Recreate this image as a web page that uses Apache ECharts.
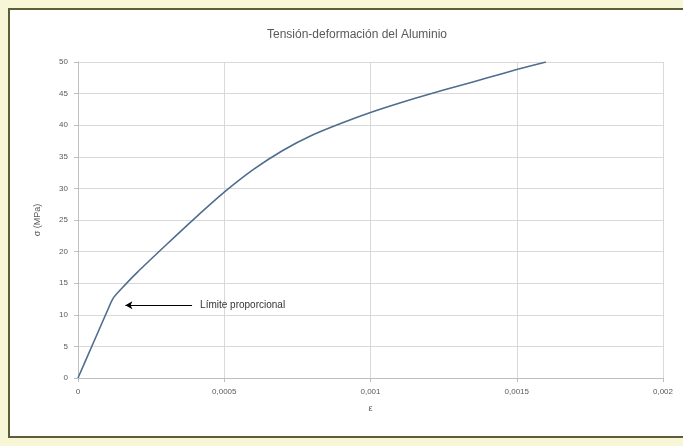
<!DOCTYPE html>
<html>
<head>
<meta charset="utf-8">
<script src="https://cdn.jsdelivr.net/npm/echarts@6/dist/echarts.min.js"></script>
<style>
  html, body { margin: 0; padding: 0; background: #f7f7d8; }
  #frame { position: absolute; left: 8px; top: 8px; width: 690px; height: 430px; border: 2px solid #5d5d3a; background: #ffffff; box-sizing: border-box; }
  #main { position: absolute; left: 0; top: 0; width: 683px; height: 446px; }
</style>
</head>
<body>
<div id="frame"></div>
<div id="main"></div>
<script>
const titleText = 'Tensión-deformación del Aluminio';
const xAxisName = 'ε';
const yAxisName = 'σ (MPa)';
const strain = [0, 0.00005, 0.0001, 0.00012, 0.00015, 0.0002, 0.0003, 0.0004, 0.0005, 0.0006, 0.0007, 0.0008, 0.0009, 0.001, 0.0011, 0.0012, 0.0013, 0.0014, 0.0015, 0.0016];
const stress = [0, 5.3, 10.6, 12.6, 14.2, 16.6, 21.0, 25.3, 29.4, 33.0, 36.0, 38.4, 40.3, 42.0, 43.5, 44.9, 46.2, 47.5, 48.8, 50.0];
const xTickLabels = {0: '0', 0.0005: '0,0005', 0.001: '0,001', 0.0015: '0,0015', 0.002: '0,002'};
const annotationText = 'Límite proporcional';
const annotationStart = [0.00039, 11.5];
const annotationEnd = [0.000162, 11.5];

const chart = echarts.init(document.getElementById('main'), null, {renderer: 'canvas'});
const grey = '#595959';
chart.setOption({
  backgroundColor: 'transparent',
  animation: false,
  title: {
    text: titleText, left: 352, top: 24, textAlign: 'center',
    textStyle: {fontFamily: 'Liberation Sans', fontSize: 12, fontWeight: 'normal', color: grey}
  },
  grid: {left: 78, right: 20, top: 62, bottom: 68},
  xAxis: {
    type: 'value', min: 0, max: 0.002, interval: 0.0005,
    name: xAxisName, nameLocation: 'middle', nameGap: 26,
    nameTextStyle: {fontFamily: 'Liberation Sans', fontSize: 9, color: grey},
    axisLine: {show: true, lineStyle: {color: '#bfbfbf'}},
    axisTick: {show: true, length: 4, lineStyle: {color: '#bfbfbf'}},
    axisLabel: {fontFamily: 'Liberation Sans', fontSize: 8, color: grey, margin: 10,
      formatter: v => xTickLabels[+v.toFixed(4)] !== undefined ? xTickLabels[+v.toFixed(4)] : String(v)},
    splitLine: {show: true, lineStyle: {color: '#d9d9d9'}}
  },
  yAxis: {
    type: 'value', min: 0, max: 50, interval: 5,
    name: yAxisName, nameLocation: 'middle', nameGap: 36, nameRotate: 90,
    nameTextStyle: {fontFamily: 'Liberation Sans', fontSize: 9, color: grey},
    axisLine: {show: true, lineStyle: {color: '#bfbfbf'}},
    axisTick: {show: true, length: 4, lineStyle: {color: '#bfbfbf'}},
    axisLabel: {fontFamily: 'Liberation Sans', fontSize: 8, color: grey, margin: 10},
    splitLine: {show: true, lineStyle: {color: '#d9d9d9'}}
  },
  series: [{
    type: 'line',
    data: strain.map((e, i) => [e, stress[i]]),
    smooth: 0.25,
    showSymbol: false,
    lineStyle: {color: '#4f6d8f', width: 1.6},
    markLine: {
      silent: true,
      symbol: ['none', 'arrow'],
      symbolSize: [6, 7],
      lineStyle: {color: '#000000', width: 1, type: 'solid'},
      label: {
        show: true, position: 'start', formatter: annotationText,
        fontFamily: 'Liberation Sans', fontSize: 10, color: '#333333', distance: 8
      },
      data: [[{coord: annotationStart}, {coord: annotationEnd}]]
    }
  }]
});
</script>
</body>
</html>
